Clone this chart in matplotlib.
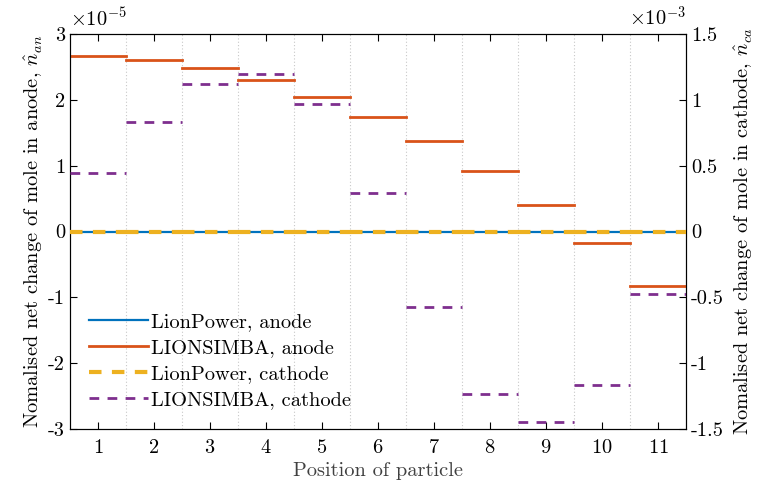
import numpy as np
import matplotlib
matplotlib.use('Agg')
import matplotlib.pyplot as plt
from matplotlib.ticker import FuncFormatter, FixedLocator

plt.rcParams['font.family'] = 'serif'
plt.rcParams['font.serif'] = ['cmr10']
plt.rcParams['mathtext.fontset'] = 'cm'
plt.rcParams['axes.unicode_minus'] = False
plt.rcParams['axes.formatter.use_mathtext'] = True
plt.rcParams['font.size'] = 14.7

# data
particles = np.arange(1, 12)
lionpower_anode = [0, 0, 0, 0, 0, 0, 0, 0, 0, 0, 0]          # x1e-5
lionsimba_anode = [2.67, 2.61, 2.49, 2.30, 2.05, 1.74, 1.37, 0.92, 0.41, -0.17, -0.83]  # x1e-5
lionpower_cathode = [0, 0, 0, 0, 0, 0, 0, 0, 0, 0, 0]        # x1e-3
lionsimba_cathode = [0.446, 0.829, 1.118, 1.198, 0.966, 0.292, -0.571, -1.234, -1.449, -1.163, -0.472]  # x1e-3

c_blue = '#0072BD'
c_orange = '#D95319'
c_yellow = '#EDB120'
c_purple = '#7E2F8E'

fig = plt.figure(figsize=(7.6, 4.9), dpi=100)
ax = fig.add_axes([0.092, 0.1245, 0.8106, 0.806])
ax2 = ax.twinx()

lo = particles - 0.5
hi = particles + 0.5

# light dotted separators between particles
for b in particles[:-1] + 0.5:
    ax.axvline(b, color='#c8c8c8', lw=0.8, ls=(0, (1, 2)), zorder=0)

an = np.array(lionsimba_anode) * 1e-5
ap = np.array(lionpower_anode) * 1e-5
ca = np.array(lionsimba_cathode) * 1e-3
cp = np.array(lionpower_cathode) * 1e-3

for i in range(len(particles)):
    ax.plot([lo[i], hi[i]], [ap[i], ap[i]], color=c_blue, lw=1.6, zorder=3,
            label='LionPower, anode' if i == 0 else None)
    ax.plot([lo[i], hi[i]], [an[i], an[i]], color=c_orange, lw=2.0, zorder=3,
            label='LIONSIMBA, anode' if i == 0 else None)
    ax2.plot([lo[i], hi[i]], [cp[i], cp[i]], color=c_yellow, lw=3.0,
             ls=(0, (3, 2.5)), zorder=4,
             label='LionPower, cathode' if i == 0 else None)
    ax2.plot([lo[i], hi[i]], [ca[i], ca[i]], color=c_purple, lw=2.0,
             ls=(0, (3.5, 3)), zorder=4,
             label='LIONSIMBA, cathode' if i == 0 else None)

ax.set_xlim(0.5, 11.5)
ax.set_ylim(-3e-5, 3e-5)
ax2.set_ylim(-1.5e-3, 1.5e-3)
ax.set_xticks(particles)

ax.yaxis.set_major_locator(FixedLocator(np.arange(-3, 4) * 1e-5))
ax2.yaxis.set_major_locator(FixedLocator(np.arange(-1.5, 1.6, 0.5) * 1e-3))
ax.yaxis.set_major_formatter(FuncFormatter(lambda v, p: '%g' % round(v / 1e-5, 6)))
ax2.yaxis.set_major_formatter(FuncFormatter(lambda v, p: '%g' % round(v / 1e-3, 6)))

ax.tick_params(axis='x', direction='in', top=True, length=5, pad=7)
ax.tick_params(axis='y', direction='in', length=5, colors='black')
ax2.tick_params(axis='y', direction='in', length=5)

ax.spines['left'].set_color('#262626')
for s in ax.spines.values():
    s.set_linewidth(0.8)

ax.text(0.0, 1.01, r'$\times10^{-5}$', transform=ax.transAxes, ha='left', va='bottom')
ax2.text(1.0, 1.01, r'$\times10^{-3}$', transform=ax2.transAxes, ha='right', va='bottom')

ax.set_xlabel('Position of particle', color='#404040', labelpad=4)
ax.set_ylabel(r'Nomalised net change of mole in anode, $\hat{n}_{an}$', labelpad=2)
ax2.set_ylabel(r'Nomalised net change of mole in cathode, $\hat{n}_{ca}$', labelpad=6)

h1, l1 = ax.get_legend_handles_labels()
h2, l2 = ax2.get_legend_handles_labels()
ax2.legend(h1 + h2, l1 + l2, loc='lower left', bbox_to_anchor=(0.018, 0.03),
           frameon=False, handlelength=2.9, handletextpad=0.15,
           labelspacing=0.37, borderaxespad=0.0)

fig.savefig('out.png', dpi=100)
